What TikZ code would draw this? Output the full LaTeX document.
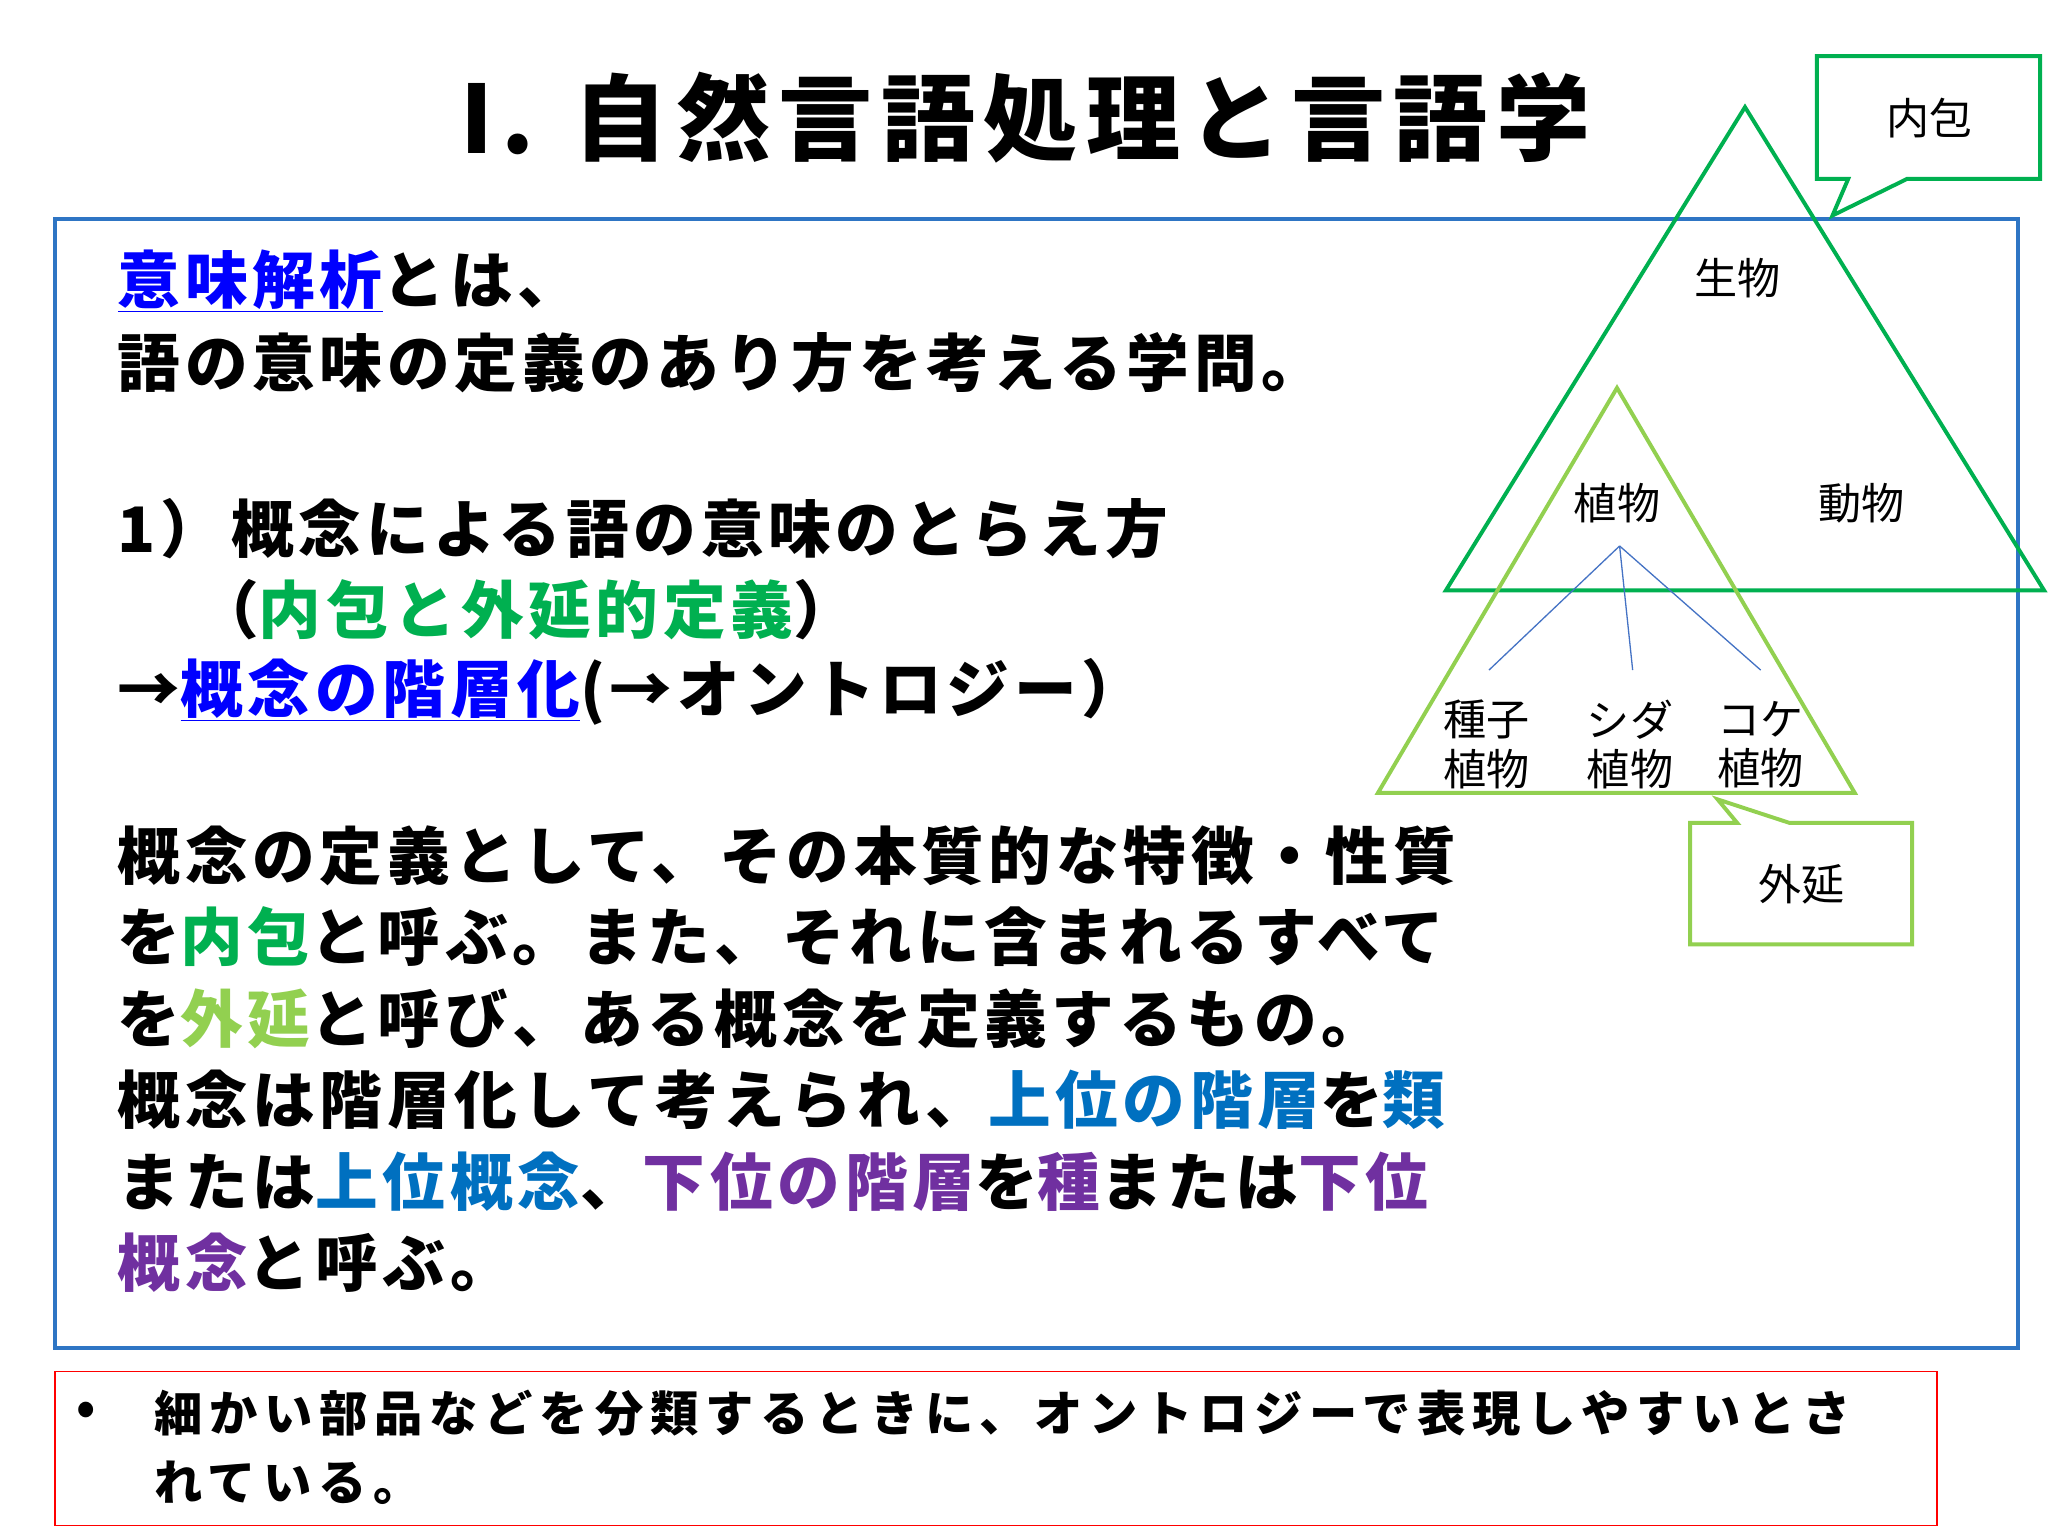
\documentclass[tikz,border=0pt]{standalone}
\usepackage{fontspec}
\setmainfont{Noto Sans CJK JP}
\newfontfamily\bodyfont[LetterSpace=7.5]{Noto Sans CJK JP}
\newfontfamily\notefont[LetterSpace=14]{Noto Sans CJK JP}
\newfontfamily\titlefont[LetterSpace=9]{Noto Sans CJK JP}
\definecolor{frameblue}{RGB}{46,117,196}
\definecolor{dgreen}{RGB}{0,176,80}
\definecolor{lgreen}{RGB}{146,208,80}
\definecolor{cblue}{RGB}{0,112,192}
\definecolor{purp}{RGB}{112,48,160}
\definecolor{ublue}{RGB}{0,0,255}
\definecolor{lineblue}{RGB}{68,114,196}
\begin{document}
\begin{tikzpicture}[x=1pt,y=-1pt,
  body/.style={anchor=west,inner sep=0,font=\bodyfont\fontsize{48}{52}\selectfont\bfseries},
  small/.style={inner sep=0,font=\fontsize{33}{40}\selectfont},
  note/.style={anchor=west,inner sep=0,font=\notefont\fontsize{37}{42}\selectfont\bfseries}]
\useasboundingbox (0,0) rectangle (1568,1176);
\fill[white] (0,0) rectangle (1568,1176);
\node[inner sep=0,font=\titlefont\fontsize{72}{78}\selectfont\bfseries] (title) at (785,90) {I.\hspace{30pt}自然言語処理と言語学};
\draw[frameblue,line width=3] (42,168) rectangle (1545,1032);
\draw[red,line width=1.2] (42,1050) rectangle (1483,1168);
% text
\node[body] (l1) at (90,215) {\textcolor{ublue}{\underline{意味解析}}とは、};
\node[body] (l2) at (90,278) {語の意味の定義のあり方を考える学問。};
\node[body] (l3) at (90,405) {1）\hspace{6pt}概念による語の意味のとらえ方};
\node[body] (l4) at (150,467) {（\textcolor{dgreen}{内包と外延的定義}）};
\node[body] (l5) at (90,530) {→\textcolor{ublue}{\underline{概念の階層化}}(→オントロジー）};
\node[body] (l6) at (90,655) {概念の定義として、その本質的な特徴・性質};
\node[body] (l7) at (90,717) {を\textcolor{dgreen}{内包}と呼ぶ。また、それに含まれるすべて};
\node[body] (l8) at (90,780) {を\textcolor{lgreen}{外延}と呼び、ある概念を定義するもの。};
\node[body] (l9) at (90,842) {概念は階層化して考えられ、\textcolor{cblue}{上位の階層}を\textcolor{cblue}{類}};
\node[body] (l10) at (90,905) {または\textcolor{cblue}{上位概念}、\textcolor{purp}{下位の階層}を\textcolor{purp}{種}または\textcolor{purp}{下位}};
\node[body] (l11) at (90,967) {\textcolor{purp}{概念}と呼ぶ。};
\node[note] (bul) at (58,1082) {•};
\node[note] (n1) at (118,1082) {細かい部品などを分類するときに、オントロジーで表現しやすいとさ};
\node[note] (n2) at (118,1135) {れている。};
% triangles
\draw[dgreen,line width=3] (1336,82) -- (1565,452) -- (1107,452) -- cycle;
\draw[lgreen,line width=3] (1238,297) -- (1420,607) -- (1055,607) -- cycle;
% callouts
\draw[dgreen,line width=3,fill=white] (1391,43) -- (1562,43) -- (1562,137) -- (1460,137) -- (1403,165) -- (1415,137) -- (1391,137) -- cycle;
\node[small] (naiho) at (1477,90) {内包};
\draw[lgreen,line width=3,fill=white] (1294,630) -- (1330,630) -- (1315,612) -- (1370,630) -- (1464,630) -- (1464,723) -- (1294,723) -- cycle;
\node[small] (gaien) at (1379,677) {外延};
% labels
\node[small] (seibutsu) at (1330,213) {生物};
\node[small] (shoku) at (1238,385) {植物};
\node[small] (dou) at (1425,385) {動物};
\node[small,align=center,font=\fontsize{33}{38}\selectfont] (shushi) at (1138,570) {種子\\植物};
\node[small,align=center,font=\fontsize{33}{38}\selectfont] (shida) at (1248,570) {シダ\\植物};
\node[small,align=center,font=\fontsize{33}{38}\selectfont] (koke) at (1348,570) {コケ\\植物};
\coordinate (br) at (1240,418);
\draw[lineblue,line width=1] (br) -- (1140,513);
\draw[lineblue,line width=1] (br) -- (1250,513);
\draw[lineblue,line width=1] (br) -- (1348,513);
\end{tikzpicture}
\end{document}
